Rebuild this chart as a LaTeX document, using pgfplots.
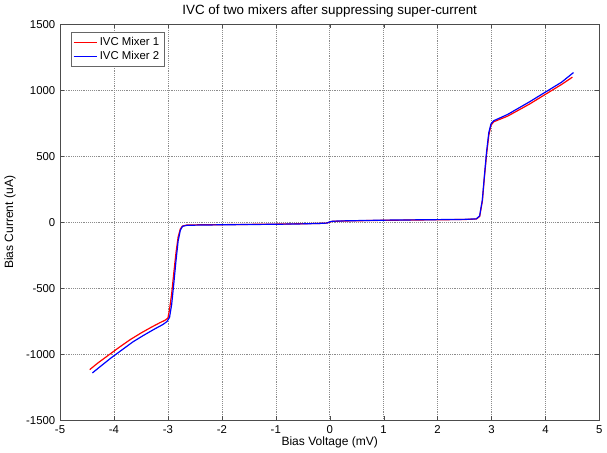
\documentclass[border=0pt]{standalone}
\usepackage{fontspec}
\setmainfont{Liberation Sans}
\usepackage{pgfplots}
\pgfplotsset{compat=1.18}

\pgfplotstableread{
v i
-4.45 -1115
-4.30 -1065
-4.10 -1005
-3.90 -945
-3.70 -888
-3.50 -838
-3.30 -792
-3.15 -760
-3.05 -740
-3.00 -725
-2.97 -660
-2.93 -540
-2.89 -380
-2.85 -230
-2.81 -110
-2.77 -50
-2.73 -28
-2.65 -20
-2.40 -18
-2.00 -17
-1.50 -15
-1.00 -13
-0.50 -10
-0.20 -8
-0.05 -5
0.00 3
0.05 8
0.30 11
1.00 16
1.50 18
2.00 20
2.50 22
2.72 26
2.78 45
2.83 160
2.87 350
2.91 520
2.95 660
2.99 735
3.04 762
3.15 780
3.30 805
3.50 850
3.70 895
3.90 945
4.10 995
4.30 1045
4.50 1100
}\mixerone

\pgfplotstableread{
v i
-4.40 -1140
-4.25 -1090
-4.05 -1025
-3.85 -965
-3.65 -905
-3.45 -855
-3.25 -808
-3.10 -775
-3.02 -752
-2.97 -720
-2.93 -620
-2.89 -460
-2.85 -290
-2.81 -140
-2.77 -60
-2.73 -30
-2.65 -22
-2.40 -20
-2.00 -18
-1.50 -16
-1.00 -14
-0.50 -11
-0.20 -8
-0.05 -5
0.00 4
0.05 9
0.30 12
1.00 17
1.50 19
2.00 21
2.50 23
2.72 27
2.78 50
2.83 170
2.87 360
2.91 540
2.95 680
2.99 745
3.04 770
3.15 790
3.30 818
3.50 865
3.70 912
3.90 962
4.10 1012
4.30 1062
4.52 1135
}\mixertwo

\begin{document}
\begin{tikzpicture}
\begin{axis}[
    scale only axis,
    width=403pt, height=296pt,
    xmin=-5, xmax=5, ymin=-1500, ymax=1500,
    xtick={-5,-4,...,5},
    ytick={-1500,-1000,...,1500},
    grid=major,
    major grid style={densely dotted, black!45, line width=0.4pt},
    axis line style={black!70},
    tick align=inside,
    tick style={black!70},
    major tick length=3pt,
    tick label style={font=\fontsize{8.5}{10}\selectfont},
    /pgf/number format/assume math mode=true,
    /pgf/number format/1000 sep={},
    label style={font=\fontsize{9}{11}\selectfont},
    xlabel={Bias Voltage (mV)},
    ylabel={Bias Current (uA)},
    xlabel style={yshift=4pt},
    ylabel style={yshift=1pt},
    title={IVC of two mixers after suppressing super-current},
    title style={font=\fontsize{10}{12}\selectfont, yshift=-4pt},
    legend pos=north west,
    legend style={font=\fontsize{8.5}{10}\selectfont, draw=black!60, inner sep=1.5pt, row sep=-1pt, at={(0.02,0.98)}},
    legend cell align=left,
]
\addplot[red, line width=0.9pt] table[x=v, y=i] {\mixerone};
\addlegendentry{IVC Mixer 1}
\addplot[blue, line width=0.9pt] table[x=v, y=i] {\mixertwo};
\addlegendentry{IVC Mixer 2}
\end{axis}
\end{tikzpicture}
\end{document}
